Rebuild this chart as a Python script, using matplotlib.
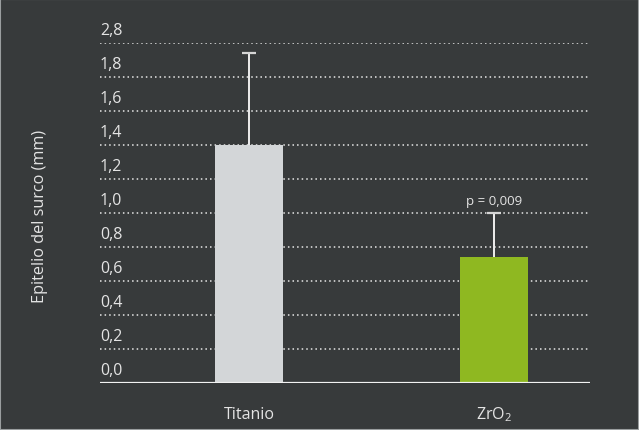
import matplotlib
matplotlib.use("Agg")
import matplotlib.pyplot as plt
from matplotlib.transforms import blended_transform_factory
from matplotlib.patches import Rectangle

categories = ["Titanio", "ZrO$_2$"]
values = [1.40, 0.74]
err_upper = [0.54, 0.26]
bar_colors = ["#d3d6d8", "#8fb821"]
ytick_values = [0.0, 0.2, 0.4, 0.6, 0.8, 1.0, 1.2, 1.4, 1.6, 1.8, 2.0]
ytick_labels = ["0,0", "0,2", "0,4", "0,6", "0,8", "1,0", "1,2", "1,4", "1,6", "1,8", "2,8"]
p_label = "p = 0,009"
ylabel = "Epitelio del surco (mm)"

BG = "#373a3b"
TXT = "#e4e4e4"
FONT = ["Open Sans", "DejaVu Sans"]
plt.rcParams['font.family'] = FONT
plt.rcParams['mathtext.fontset'] = 'custom'
plt.rcParams['mathtext.rm'] = 'Open Sans'
plt.rcParams['mathtext.it'] = 'Open Sans'
plt.rcParams['mathtext.default'] = 'regular'

W, H = 639, 431
fig = plt.figure(figsize=(W/100, H/100), dpi=100, facecolor=BG)
ax = fig.add_axes([100/W, (H-384)/H, 490/W, 340/H])
ax.set_facecolor(BG)

x = list(range(len(categories)))
ax.set_xlim(-149/245, 1 + 96/245)
ax.set_ylim(0, 2.0)

# grid lines
for yv in ytick_values[1:]:
    ax.axhline(yv, color="#e8e8e8", lw=1.1, ls=(0, (1, 2)), zorder=1)

ax.bar(x, values, width=68/245, color=bar_colors, zorder=3)

# error bars (upper only)
tops = [v + e for v, e in zip(values, err_upper)]
for xi, v, t in zip(x, values, tops):
    ax.plot([xi, xi], [v, t], color="#eeeeee", lw=1.4, zorder=2)
ax.plot(x, tops, ls="none", marker="_", markersize=9.5, mew=1.6, color="#d5d5d5", zorder=2)

# axis line
ax.axhline(0, color="#f2f2f2", lw=1.6, zorder=4)

for s in ax.spines.values():
    s.set_visible(False)
ax.set_xticks([])
ax.set_yticks([])

trans = blended_transform_factory(ax.transAxes, ax.transData)
for yv, lab in zip(ytick_values, ytick_labels):
    ax.annotate(lab, xy=(0, yv), xycoords=trans, xytext=(0, 3.5), textcoords="offset points",
                ha="left", va="bottom", fontsize=11.5, color=TXT)

for xi, c in zip(x, categories):
    ax.annotate(c, xy=(xi, 0), xycoords=("data", "data"), xytext=(0, -22), textcoords="offset points",
                ha="center", va="center", fontsize=11.5, color=TXT, annotation_clip=False)

ax.annotate(p_label, xy=(x[1], tops[1]), xytext=(0, 9), textcoords="offset points",
            ha="center", va="center", fontsize=9.5, color=TXT)

fig.text(40/W, 1 - 216/H, ylabel, rotation=90, ha="center", va="center", fontsize=11.7, color=TXT)

fig.patches.append(Rectangle((0, 0), 1, 1, transform=fig.transFigure, fill=False,
                             edgecolor="#9a9e9f", lw=1.5))

fig.savefig("out.png", dpi=100, facecolor=BG)
